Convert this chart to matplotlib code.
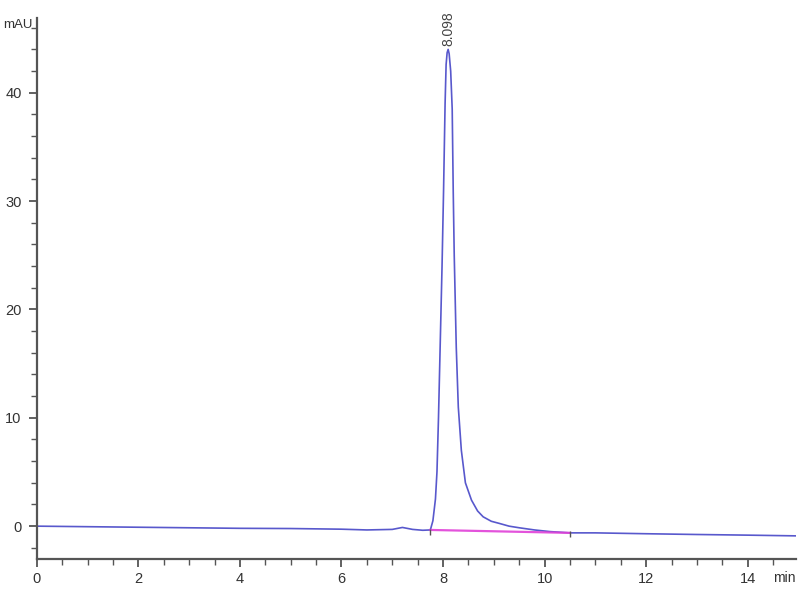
import numpy as np
import matplotlib.pyplot as plt
from matplotlib.ticker import MultipleLocator

# chromatogram trace (min, mAU)
time = [0, 1, 2, 3, 4, 5, 6, 6.5, 7.0, 7.2, 7.4, 7.6, 7.75, 7.8, 7.85, 7.88,
        7.91, 7.95, 7.98, 8.01, 8.04, 8.06, 8.08, 8.1, 8.12, 8.15, 8.18, 8.2,
        8.22, 8.26, 8.3, 8.36, 8.44, 8.56, 8.68, 8.79, 8.95, 9.11, 9.3, 9.5,
        9.8, 10.1, 10.5, 11.0, 12.0, 13.0, 14.0, 15.0]
signal = [0, -0.05, -0.1, -0.15, -0.2, -0.22, -0.28, -0.35, -0.3, -0.12,
          -0.3, -0.38, -0.35, 0.5, 2.5, 5.0, 10.0, 18.0, 24.0, 31.0, 39.0,
          42.6, 43.7, 44.0, 43.6, 42.0, 38.5, 31.0, 25.0, 16.5, 11.0, 7.0,
          4.0, 2.4, 1.4, 0.86, 0.45, 0.25, 0.0, -0.15, -0.35, -0.5, -0.62,
          -0.62, -0.7, -0.77, -0.83, -0.9]

# integration baseline and events
base_t = [7.75, 10.5]
base_y = [-0.35, -0.62]
peak_rt = 8.098
peak_h = 44.0

plt.rcParams['font.family'] = ['Liberation Sans Narrow', 'Liberation Sans', 'DejaVu Sans']

fig = plt.figure(figsize=(8, 6), dpi=100)
ax = fig.add_axes([0.046, 0.068, 0.949, 0.902])

ax.plot(time, signal, color='#3b3bc4', lw=1.2, alpha=0.85)
ax.plot(base_t, base_y, color='#e040d8', lw=1.6, alpha=0.9)
ax.plot(base_t, [y - 0.15 for y in base_y], linestyle='none', marker='|',
        markersize=5, color='#555555')

ax.text(peak_rt, peak_h + 0.3, f'{peak_rt:.3f}', rotation=90, ha='center',
        va='bottom', fontsize=10, color='#444444')

ax.set_xlim(0, 14.95)
ax.set_ylim(-3.05, 46.9)
ax.xaxis.set_major_locator(MultipleLocator(2))
ax.xaxis.set_minor_locator(MultipleLocator(0.5))
ax.yaxis.set_major_locator(MultipleLocator(10))
ax.yaxis.set_minor_locator(MultipleLocator(2))

for s in ['top', 'right']:
    ax.spines[s].set_visible(False)
for s in ['left', 'bottom']:
    ax.spines[s].set_color('#555555')
    ax.spines[s].set_linewidth(1.6)

ax.tick_params(which='major', length=6, width=1.3, color='#555555',
               labelsize=10.5, labelcolor='#333333')
ax.tick_params(axis='y', which='major', pad=5)
ax.tick_params(which='minor', length=4, width=1.0, color='#555555')

fig.text(0.004, 1 - 25 / 600, 'mAU', ha='left', va='center',
         fontsize=9.5, color='#333333')
ax.text(1.0, -0.034, 'min', transform=ax.transAxes, ha='right', va='center',
        fontsize=10, color='#333333')

fig.savefig('out.png', dpi=100)
